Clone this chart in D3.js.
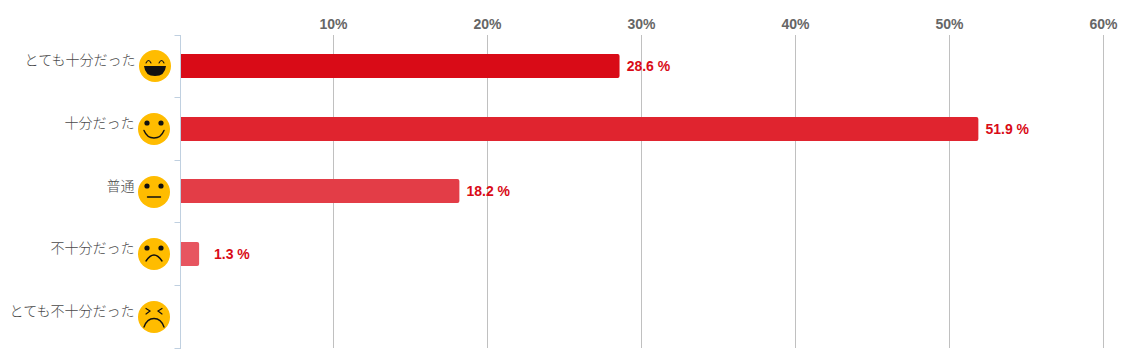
<!DOCTYPE html>
<html>
<head>
<meta charset="utf-8">
<script src="https://cdn.jsdelivr.net/npm/d3@7"></script>
<style>
    html, body { margin: 0; padding: 0; background: #fff; }
    svg { display: block; }
</style>
</head>
<body>
<script>
const categories = ['とても十分だった', '十分だった', '普通', '不十分だった', 'とても不十分だった'];
const values = [28.6, 51.9, 18.2, 1.3, null];
const barColors = ['#d90b17', '#e0242f', '#e33d47', '#e75560', '#eb6e76'];
const faces = ['laugh', 'smile', 'neutral', 'sad', 'upset'];
const tickValues = [10, 20, 30, 40, 50, 60];

const width = 1124, height = 363;
const plot = {left: 179.5, right: 1103.5, top: 35, bottom: 348};

const svg = d3.select('body')
    .append('svg')
    .attr('width', width)
    .attr('height', height);

const x = d3.scaleLinear()
    .domain([0, 60])
    .range([plot.left, plot.right]);

const y = d3.scaleBand()
    .domain(categories)
    .range([plot.top, plot.bottom]);

// grid lines + top labels
const xAxis = svg.append('g')
    .attr('transform', 'translate(0,' + plot.top + ')')
    .call(d3.axisTop(x)
        .tickValues(tickValues)
        .offset(0)
        .tickSize(plot.top - plot.bottom)
        .tickFormat(d => d + '%'));
xAxis.select('.domain').remove();
xAxis.selectAll('.tick line')
    .attr('stroke', '#c0c0c0');
xAxis.selectAll('.tick text')
    .attr('y', -6)
    .attr('font-family', '"Liberation Sans", Arial, sans-serif')
    .attr('font-size', 14)
    .attr('font-weight', 'bold')
    .attr('fill', '#666');

// left axis, ticks sit on the band edges
const yAxis = svg.append('g');
const axisX = plot.left + 1;
yAxis.append('line')
    .attr('x1', axisX)
    .attr('x2', axisX)
    .attr('y1', plot.top)
    .attr('y2', plot.bottom + 1)
    .attr('stroke', '#c0d0e0');
const edges = categories.map(c => y(c)).concat([plot.bottom]);
yAxis.selectAll('line.edge')
    .data(edges)
    .enter()
    .append('line')
    .attr('class', 'edge')
    .attr('x1', axisX - 6)
    .attr('x2', axisX)
    .attr('y1', d => Math.floor(d) + 0.5)
    .attr('y2', d => Math.floor(d) + 0.5)
    .attr('stroke', '#c0d0e0');

const centre = c => y(c) + y.bandwidth() / 2;

function barPath(v, c) {
    const x0 = Math.ceil(axisX), x1 = x(v) - 0.4;
    const top = Math.round(centre(c) - 12.3), bottom = top + 24, r = 2;
    return 'M' + x0 + ',' + top + 'H' + (x1 - r) + 'Q' + x1 + ',' + top + ' ' + x1 + ',' + (top + r)
        + 'V' + (bottom - r) + 'Q' + x1 + ',' + bottom + ' ' + (x1 - r) + ',' + bottom + 'H' + x0 + 'Z';
}

const rows = categories.map((c, i) => ({cat: c, value: values[i], color: barColors[i], face: faces[i], i: i}));

svg.selectAll('path.bar')
    .data(rows.filter(d => d.value !== null))
    .enter()
    .append('path')
    .attr('class', 'bar')
    .attr('d', d => barPath(d.value, d.cat))
    .attr('fill', d => d.color);

svg.selectAll('text.value')
    .data(rows.filter(d => d.value !== null))
    .enter()
    .append('text')
    .attr('class', 'value')
    .attr('x', d => Math.max(x(d.value) + 6.7, x(0) + 34.5))
    .attr('y', d => Math.round(centre(d.cat) - 0.3) + 5)
    .attr('font-family', '"Liberation Sans", Arial, sans-serif')
    .attr('font-size', 14)
    .attr('font-weight', 'bold')
    .attr('fill', '#d90b17')
    .text(d => d.value.toFixed(1) + ' %');

svg.selectAll('text.cat')
    .data(rows)
    .enter()
    .append('text')
    .attr('class', 'cat')
    .attr('x', d => d.i === 0 ? 135.5 : 134.5)
    .attr('y', d => Math.round(centre(d.cat)) - 1)
    .attr('text-anchor', 'end')
    .attr('font-family', '"Noto Sans CJK JP", sans-serif')
    .attr('font-size', 14)
    .attr('font-weight', 300)
    .attr('fill', '#4a4a4a')
    .text(d => d.cat);

// smiley icons
const icons = svg.selectAll('g.icon')
    .data(rows)
    .enter()
    .append('g')
    .attr('class', 'icon')
    .attr('transform', d => 'translate(' + (d.i === 0 ? 155 : 154) + ',' + Math.round(centre(d.cat)) + ')');

icons.append('circle')
    .attr('r', 16)
    .attr('fill', '#ffbc00');

const ink = {fill: 'none', stroke: '#111', 'stroke-width': 1.4, 'stroke-linecap': 'round'};

function stroke(g, d) {
    const p = g.append('path').attr('d', d);
    Object.keys(ink).forEach(k => p.attr(k, ink[k]));
    return p;
}

function eyes(g) {
    g.selectAll('circle.eye')
        .data([-7, 7])
        .enter()
        .append('circle')
        .attr('class', 'eye')
        .attr('cx', d => d)
        .attr('cy', -6)
        .attr('r', 2.6)
        .attr('fill', '#111');
}

icons.each(function(d) {
    const g = d3.select(this);
    if (d.face === 'laugh') {
        stroke(g, 'M-9,-3 Q-6.5,-8 -4,-3').attr('stroke-width', 1.1);
        stroke(g, 'M4,-3 Q6.5,-8 9,-3').attr('stroke-width', 1.1);
        g.append('path')
            .attr('d', 'M-11,0 H11 Q10,10 0,10 Q-10,10 -11,0Z')
            .attr('fill', '#111');
    } else if (d.face === 'smile') {
        eyes(g);
        stroke(g, 'M-10,1.5 Q-7,9 0,9 Q7,9 10,1.5').attr('stroke-width', 1.4);
    } else if (d.face === 'neutral') {
        eyes(g);
        stroke(g, 'M-6.5,5 H6.5');
    } else if (d.face === 'sad') {
        eyes(g);
        stroke(g, 'M-8,7 Q-4,1 0,1 Q4,1 8,7').attr('stroke-width', 1.4);
    } else {
        stroke(g, 'M-8,-8.5 L-4,-6 L-8,-3').attr('stroke-width', 1.2);
        stroke(g, 'M8,-8.5 L4,-6 L8,-3').attr('stroke-width', 1.2);
        stroke(g, 'M-10,10 Q-7,1.5 0,1.5 Q7,1.5 10,10').attr('stroke-width', 1.4);
    }
});
</script>
</body>
</html>
